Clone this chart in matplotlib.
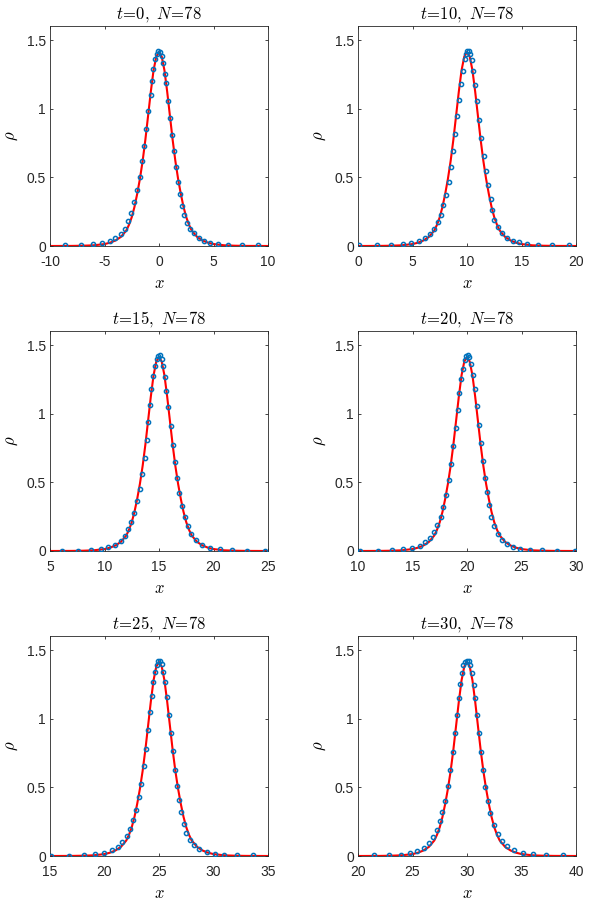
# particle solution vs exact soliton profile, six snapshots
import matplotlib
matplotlib.use("Agg")
import matplotlib.pyplot as plt
from matplotlib.ticker import MultipleLocator, FormatStrFormatter

plt.rcParams["mathtext.fontset"] = "cm"
plt.rcParams["font.family"] = ["Liberation Sans", "DejaVu Sans"]
plt.rcParams["axes.unicode_minus"] = False

times = [0, 10, 15, 20, 25, 30]
n_particles = 78

# exact profile, right half (offset from peak, rho)
prof_d = [0, 0.25, 0.5, 0.75, 1.0, 1.25, 1.5, 1.75, 2.0, 2.25, 2.5, 2.75,
          3.0, 3.5, 4.0, 4.5, 5.0, 6.0, 7.0, 8.0, 10.0]
prof_rho = [1.414, 1.38, 1.28, 1.125, 0.95, 0.775, 0.62, 0.49, 0.38, 0.285,
            0.21, 0.155, 0.113, 0.066, 0.04, 0.024, 0.014, 0.005, 0.002,
            0.0007, 0.0]

# particle positions (offset from t) and densities for each snapshot
pts_d_t0 = [-8.59, -7.19, -6.06, -5.2, -4.53, -4.0, -3.52, -3.15, -2.81, -2.54,
            -2.26, -1.99, -1.74, -1.53, -1.35, -1.16, -0.98, -0.76, -0.64, -0.52,
            -0.34, -0.18, -0.06, 0.09, 0.24, 0.37, 0.55, 0.64, 0.8, 0.98,
            1.16, 1.35, 1.56, 1.77, 1.96, 2.11, 2.32, 2.6, 2.87, 3.24,
            3.67, 4.13, 4.71, 5.44, 6.36, 7.58, 9.08]
pts_rho_t0 = [0.005, 0.005, 0.012, 0.024, 0.039, 0.058, 0.09, 0.127, 0.18, 0.239,
              0.317, 0.407, 0.506, 0.616, 0.73, 0.855, 0.981, 1.103, 1.205, 1.29,
              1.359, 1.402, 1.42, 1.417, 1.383, 1.33, 1.256, 1.188, 1.054, 0.93,
              0.806, 0.689, 0.575, 0.467, 0.377, 0.295, 0.224, 0.166, 0.124, 0.093,
              0.058, 0.039, 0.022, 0.015, 0.007, 0.005, 0.005]

pts_d_t10 = [-9.94, -8.29, -6.97, -5.9, -5.11, -4.43, -3.88, -3.39, -3.03, -2.69,
             -2.42, -2.17, -1.93, -1.68, -1.5, -1.28, -1.07, -0.89, -0.7, -0.55,
             -0.4, -0.18, -0.06, 0.03, 0.15, 0.28, 0.43, 0.58, 0.73, 0.92,
             1.1, 1.31, 1.53, 1.74, 1.93, 2.17, 2.32, 2.51, 2.87, 3.21,
             3.64, 4.19, 4.74, 5.54, 6.54, 7.8, 9.33]
pts_rho_t10 = [0.005, 0.005, 0.007, 0.012, 0.024, 0.039, 0.061, 0.09, 0.127, 0.173,
               0.229, 0.297, 0.375, 0.467, 0.575, 0.694, 0.818, 0.945, 1.066, 1.178,
               1.273, 1.359, 1.402, 1.422, 1.424, 1.402, 1.356, 1.278, 1.176, 1.054,
               0.92, 0.786, 0.657, 0.543, 0.441, 0.343, 0.261, 0.192, 0.141, 0.093,
               0.061, 0.039, 0.027, 0.015, 0.007, 0.005, 0.005]

pts_d_t15 = [-8.87, -7.43, -6.24, -5.35, -4.68, -4.04, -3.52, -3.15, -2.84, -2.54,
             -2.26, -1.99, -1.74, -1.53, -1.31, -1.1, -0.98, -0.83, -0.7, -0.55,
             -0.37, -0.21, -0.06, 0.1, 0.24, 0.36, 0.52, 0.68, 0.87, 1.06,
             1.25, 1.45, 1.65, 1.88, 2.13, 2.38, 2.62, 2.95, 3.35, 3.9,
             4.7, 5.6, 6.7, 8.1, 9.76]
pts_rho_t15 = [0.002, 0.002, 0.005, 0.015, 0.027, 0.046, 0.073, 0.11, 0.161, 0.214,
               0.28, 0.365, 0.455, 0.56, 0.679, 0.808, 0.937, 1.066, 1.181, 1.273,
               1.346, 1.398, 1.424, 1.427, 1.402, 1.349, 1.271, 1.169, 1.047, 0.908,
               0.774, 0.648, 0.531, 0.421, 0.329, 0.246, 0.18, 0.122, 0.08, 0.046,
               0.024, 0.012, 0.005, 0.002, 0.002]

pts_d_t20 = [-9.82, -8.2, -6.91, -5.87, -5.05, -4.34, -3.82, -3.39, -3.03, -2.72,
             -2.42, -2.17, -1.9, -1.65, -1.44, -1.25, -1.04, -0.86, -0.7, -0.55,
             -0.37, -0.21, -0.06, 0.09, 0.21, 0.37, 0.52, 0.7, 0.89, 1.07,
             1.25, 1.47, 1.68, 1.87, 2.02, 2.23, 2.48, 2.84, 3.21, 3.7,
             4.25, 4.89, 5.75, 6.85, 8.23, 9.94]
pts_rho_t20 = [0.002, 0.002, 0.005, 0.012, 0.024, 0.039, 0.063, 0.097, 0.139, 0.19,
               0.251, 0.324, 0.409, 0.519, 0.636, 0.765, 0.896, 1.03, 1.152, 1.254,
               1.327, 1.39, 1.424, 1.427, 1.41, 1.361, 1.283, 1.181, 1.057, 0.92,
               0.784, 0.653, 0.533, 0.429, 0.334, 0.251, 0.18, 0.122, 0.08, 0.051,
               0.029, 0.015, 0.007, 0.005, 0.002, 0.002]

pts_d_t25 = [-9.94, -8.29, -6.91, -5.84, -5.02, -4.31, -3.79, -3.36, -2.97, -2.63,
             -2.35, -2.08, -1.83, -1.62, -1.41, -1.19, -0.98, -0.8, -0.64, -0.52,
             -0.34, -0.18, -0.06, 0.09, 0.24, 0.4, 0.55, 0.73, 0.89, 1.07,
             1.25, 1.45, 1.66, 1.86, 2.05, 2.26, 2.52, 2.8, 3.2, 3.7,
             4.37, 5.11, 5.99, 7.16, 8.62]
pts_rho_t25 = [0.002, 0.002, 0.005, 0.012, 0.024, 0.041, 0.066, 0.1, 0.144, 0.195,
               0.261, 0.336, 0.429, 0.526, 0.653, 0.782, 0.916, 1.047, 1.169, 1.266,
               1.342, 1.393, 1.42, 1.422, 1.402, 1.344, 1.266, 1.157, 1.03, 0.894,
               0.762, 0.628, 0.511, 0.409, 0.317, 0.236, 0.17, 0.117, 0.08, 0.049,
               0.029, 0.017, 0.01, 0.005, 0.005]

pts_d_t30 = [-8.56, -7.19, -6.06, -5.2, -4.56, -3.98, -3.49, -3.12, -2.78, -2.51,
             -2.26, -1.99, -1.74, -1.53, -1.31, -1.1, -0.92, -0.76, -0.64, -0.49,
             -0.34, -0.15, 0.0, 0.15, 0.31, 0.46, 0.6, 0.75, 0.92, 1.1,
             1.29, 1.48, 1.69, 1.9, 2.14, 2.48, 2.82, 3.22, 3.68, 4.31,
             5.11, 6.06, 7.25, 8.78]
pts_rho_t30 = [0.005, 0.005, 0.01, 0.022, 0.037, 0.058, 0.095, 0.136, 0.19, 0.256,
               0.321, 0.399, 0.511, 0.628, 0.76, 0.894, 1.028, 1.152, 1.254, 1.334,
               1.388, 1.417, 1.424, 1.42, 1.39, 1.334, 1.244, 1.152, 1.028, 0.894,
               0.755, 0.623, 0.502, 0.399, 0.312, 0.229, 0.161, 0.112, 0.071, 0.041,
               0.022, 0.012, 0.007, 0.005]

pts_d = [pts_d_t0, pts_d_t10, pts_d_t15, pts_d_t20, pts_d_t25, pts_d_t30]
pts_rho = [pts_rho_t0, pts_rho_t10, pts_rho_t15, pts_rho_t20, pts_rho_t25, pts_rho_t30]

# full symmetric profile
curve_d = [-d for d in prof_d[::-1]] + prof_d[1:]
curve_rho = prof_rho[::-1] + prof_rho[1:]

W, H = 591, 902
fig = plt.figure(figsize=(W / 100, H / 100), dpi=100)

lefts = [50, 358]
bottoms = [246, 551, 856]
aw, ah = 218, 219.6
grey = (0.15, 0.15, 0.15)

for i, t in enumerate(times):
    row, col = i // 2, i % 2
    ax = fig.add_axes([lefts[col] / W, (H - bottoms[row]) / H, aw / W, ah / H])

    ax.plot([t + d for d in curve_d], curve_rho, "-", color="red", lw=1.5, zorder=2)
    ax.plot([t + d for d in pts_d[i]], pts_rho[i], "o", ms=3.0, mfc="none",
            mec=(0, 0.447, 0.741), mew=1.1, zorder=3)

    ax.set_xlim(t - 10, t + 10)
    ax.set_ylim(0, 1.6)
    ax.xaxis.set_major_locator(MultipleLocator(5))
    ax.set_yticks([0, 0.5, 1, 1.5])
    ax.xaxis.set_major_formatter(FormatStrFormatter("%g"))
    ax.yaxis.set_major_formatter(FormatStrFormatter("%g"))

    ax.tick_params(direction="in", length=2.5, width=0.6, top=True, right=True,
                   labelsize=10, colors=grey)
    ax.tick_params(axis="x", pad=6.5)
    ax.tick_params(axis="y", pad=3)
    for sp in ax.spines.values():
        sp.set_linewidth(0.6)
        sp.set_color(grey)

    ax.set_title(r"$t\!=\!%d,\ N\!=\!%d$" % (t, n_particles), fontsize=12, pad=6)
    ax.set_xlabel(r"$x$", fontsize=12, labelpad=5)
    ax.set_ylabel(r"$\rho$", fontsize=12, labelpad=5)

fig.savefig("out.png", dpi=100)
